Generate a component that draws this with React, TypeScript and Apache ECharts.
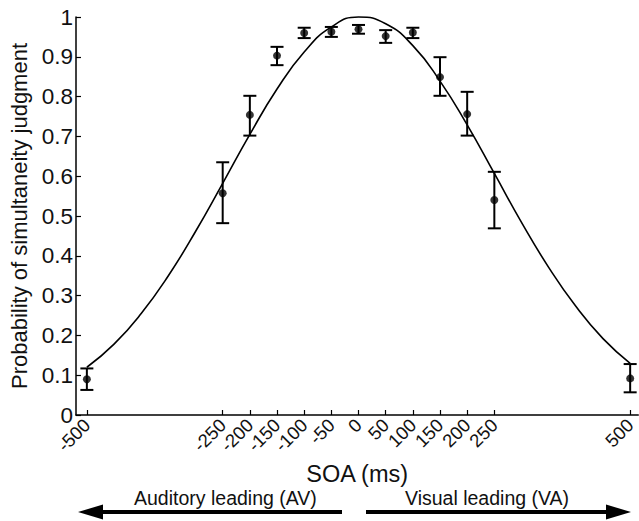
import React, { useEffect, useRef } from "react";
import * as echarts from "echarts";

// Observed data: SOA (ms), mean probability, error-bar bounds
const soa = [-500, -250, -200, -150, -100, -50, 0, 50, 100, 150, 200, 250, 500];
const pMean = [0.090, 0.557, 0.754, 0.903, 0.960, 0.963, 0.969, 0.952, 0.961, 0.849, 0.756, 0.540, 0.092];
const pUpper = [0.117, 0.635, 0.802, 0.925, 0.973, 0.975, 0.980, 0.967, 0.973, 0.899, 0.812, 0.611, 0.128];
const pLower = [0.063, 0.482, 0.702, 0.879, 0.947, 0.950, 0.958, 0.935, 0.947, 0.802, 0.702, 0.469, 0.057];

// Fitted curve, values every 50 ms
const curveX = [-500, -450, -400, -350, -300, -250, -200, -150, -100, -50, 0, 50, 100, 150, 200, 250, 300, 350, 400, 450, 500];
const curveY = [0.120, 0.178, 0.255, 0.350, 0.461, 0.582, 0.705, 0.819, 0.912, 0.975, 1.000, 0.983, 0.928, 0.839, 0.729, 0.607, 0.484, 0.371, 0.273, 0.192, 0.130];

const xTickValues = [-500, -250, -200, -150, -100, -50, 0, 50, 100, 150, 200, 250, 500];

const FONT = "Liberation Sans, Arial, sans-serif";

export default function App() {
  const ref = useRef<HTMLDivElement>(null);

  useEffect(() => {
    if (!ref.current) return;
    const chart = echarts.init(ref.current, undefined, { renderer: "svg" });

    const errData = soa.map((x, i) => [x, pLower[i], pUpper[i]]);
    const ptData = soa.map((x, i) => [x, pMean[i]]);
    const lineData = curveX.map((x, i) => [x, curveY[i]]);

    const option: any = {
      animation: false,
      backgroundColor: "#ffffff",
      textStyle: { fontFamily: FONT },
      grid: { left: 76, right: 0, top: 17, bottom: 106, containLabel: false },
      xAxis: {
        type: "value",
        min: -520,
        max: 515,
        name: "SOA (ms)",
        nameLocation: "middle",
        nameGap: 40,
        nameTextStyle: { fontSize: 23.5, color: "#111", fontFamily: FONT },
        axisLine: { show: true, onZero: false, lineStyle: { color: "#000", width: 1.5 } },
        axisTick: { show: true, inside: true, length: 5, customValues: xTickValues, lineStyle: { color: "#000", width: 1.2 } },
        axisLabel: {
          customValues: xTickValues,
          rotate: 45,
          fontSize: 18.5,
          color: "#111",
          margin: 7,
          fontFamily: FONT,
        },
        splitLine: { show: false },
      },
      yAxis: {
        type: "value",
        min: 0,
        max: 1,
        interval: 0.1,
        name: "Probability of simultaneity judgment",
        nameLocation: "middle",
        nameGap: 44,
        nameTextStyle: { fontSize: 22, color: "#111", fontFamily: FONT },
        axisLine: { show: true, onZero: false, lineStyle: { color: "#000", width: 1.5 } },
        axisTick: { show: true, inside: true, length: 5, lineStyle: { color: "#000", width: 1.2 } },
        axisLabel: {
          fontSize: 22.5,
          color: "#111",
          margin: 3,
          fontFamily: FONT,
          formatter: (v: number) => (v === 0 ? "0" : v === 1 ? "1" : v.toFixed(1)),
        },
        splitLine: { show: false },
      },
      series: [
        {
          type: "line",
          data: lineData,
          smooth: true,
          showSymbol: false,
          symbol: "none",
          clip: false,
          lineStyle: { color: "#000", width: 1.6 },
          z: 2,
        },
        {
          type: "custom",
          data: errData,
          clip: false,
          z: 3,
          renderItem: (params: any, api: any) => {
            const x = api.value(0);
            const lo = api.coord([x, api.value(1)]);
            const hi = api.coord([x, api.value(2)]);
            const hw = 6.5;
            const style = { stroke: "#000", lineWidth: 2 };
            return {
              type: "group",
              children: [
                { type: "line", shape: { x1: lo[0], y1: lo[1], x2: hi[0], y2: hi[1] }, style },
                { type: "line", shape: { x1: hi[0] - hw, y1: hi[1], x2: hi[0] + hw, y2: hi[1] }, style },
                { type: "line", shape: { x1: lo[0] - hw, y1: lo[1], x2: lo[0] + hw, y2: lo[1] }, style },
              ],
            };
          },
        },
        {
          type: "scatter",
          data: ptData,
          symbol: "circle",
          symbolSize: 8,
          itemStyle: { color: "#000" },
          z: 4,
        },
      ],
      graphic: [
        {
          type: "text",
          left: 134,
          top: 488,
          style: { text: "Auditory leading (AV)", fontSize: 19.5, fill: "#111", fontFamily: FONT },
        },
        {
          type: "text",
          left: 405,
          top: 488,
          style: { text: "Visual leading (VA)", fontSize: 19.5, fill: "#111", fontFamily: FONT },
        },
        { type: "rect", shape: { x: 98, y: 510, width: 244, height: 4 }, style: { fill: "#000" } },
        { type: "polygon", shape: { points: [[78, 512], [103, 504.5], [103, 519.5]] }, style: { fill: "#000" } },
        { type: "rect", shape: { x: 366, y: 510, width: 244, height: 4 }, style: { fill: "#000" } },
        { type: "polygon", shape: { points: [[631, 512], [606, 504.5], [606, 519.5]] }, style: { fill: "#000" } },
      ],
    };

    chart.setOption(option);
    return () => chart.dispose();
  }, []);

  return (
    <div
      ref={ref}
      style={{ position: "fixed", left: 0, top: 0, width: 639, height: 521, background: "#fff" }}
    />
  );
}
